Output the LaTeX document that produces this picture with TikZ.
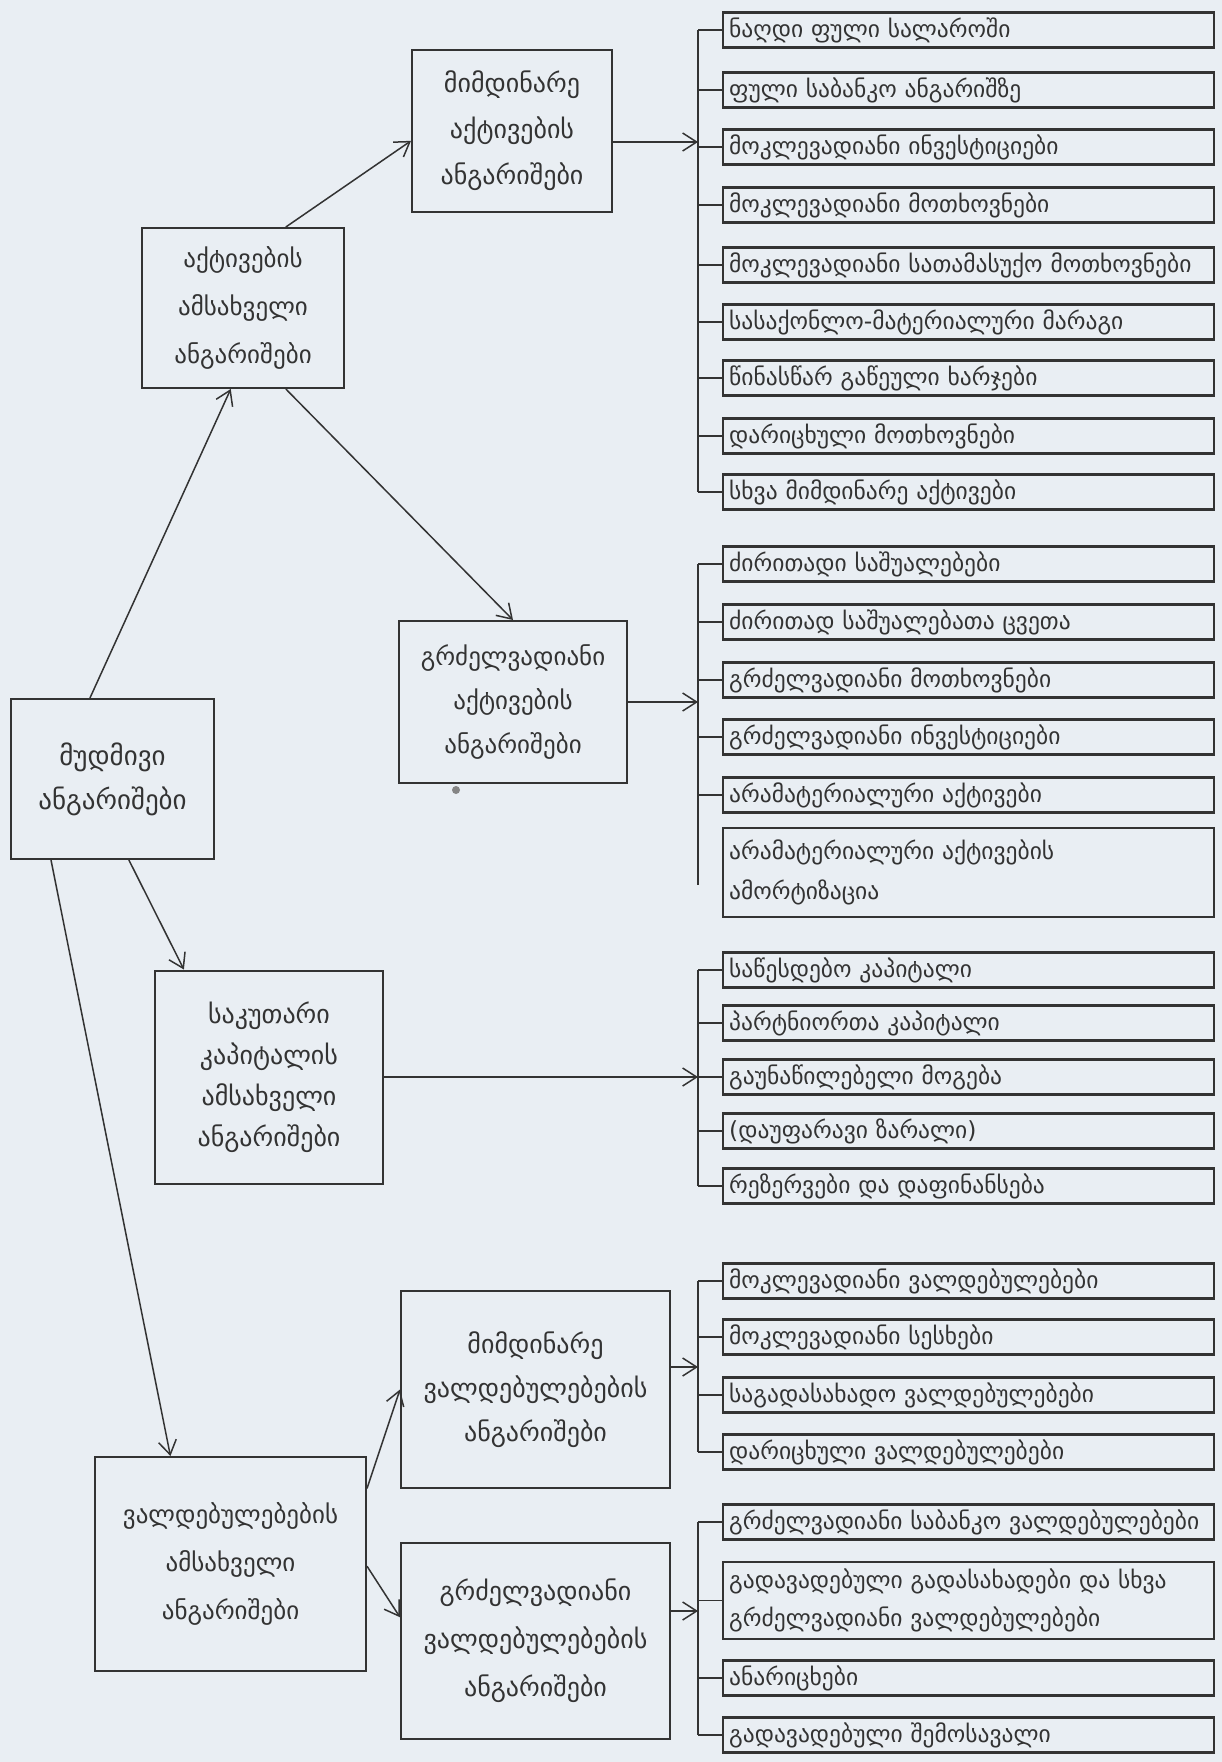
\documentclass[tikz,border=0pt]{standalone}
\usepackage{fontspec}
\setmainfont{DejaVu Sans}
\usetikzlibrary{arrows.meta,calc}
\definecolor{paper}{HTML}{E9EEF3}
\definecolor{ink}{HTML}{333333}
\tikzset{
 rbox/.style={draw=ink, line width=2.4pt, rectangle, anchor=west, inner xsep=6pt, inner ysep=0pt, text width=479pt, minimum height=35pt, align=left, font=\fontsize{23.5}{40}\selectfont, text=ink},
 mbox/.style={draw=ink, line width=2pt, rectangle, align=center, inner sep=0pt, font=\fontsize{26}{46}\selectfont, text=ink},
 conn/.style={draw=ink, line width=1.5pt},
 arr/.style={conn, -{Straight Barb[length=14pt,width=18pt,line width=1.5pt]}},
}
\begin{document}
\begin{tikzpicture}[x=1pt,y=-1pt]
\useasboundingbox (0,0) rectangle (1222,1762);
\fill[paper] (0,0) rectangle (1222,1762);
\coordinate (bx) at (698,0);
% left boxes
\node[mbox, minimum width=203pt, minimum height=160pt, font=\fontsize{27}{44}\selectfont] (L0) at (112.5,779) {მუდმივი\\ანგარიშები};
\node[mbox, minimum width=202pt, minimum height=160pt, font=\fontsize{25}{48}\selectfont] (L1) at (243,308) {აქტივების\\ამსახველი\\ანგარიშები};
\node[mbox, minimum width=228pt, minimum height=213pt, font=\fontsize{26}{41}\selectfont] (L2) at (269,1077) {საკუთარი\\კაპიტალის\\ამსახველი\\ანგარიშები};
\node[mbox, minimum width=271pt, minimum height=214pt, font=\fontsize{25}{48}\selectfont] (L3) at (230.5,1564) {ვალდებულებების\\ამსახველი\\ანგარიშები};
% middle boxes
\node[mbox, minimum width=200pt, minimum height=162pt] (M1) at (512,131) {მიმდინარე\\აქტივების\\ანგარიშები};
\node[mbox, minimum width=228pt, minimum height=162pt, font=\fontsize{25}{44}\selectfont] (M2) at (513,702) {გრძელვადიანი\\აქტივების\\ანგარიშები};
\node[mbox, minimum width=269pt, minimum height=197pt, font=\fontsize{26}{44}\selectfont] (M3) at (535.5,1389.5) {მიმდინარე\\ვალდებულებების\\ანგარიშები};
\node[mbox, minimum width=269pt, minimum height=196pt, font=\fontsize{26}{48}\selectfont] (M4) at (535.5,1641) {გრძელვადიანი\\ვალდებულებების\\ანგარიშები};
\fill[ink!60] (456,790) circle (4pt);
% right boxes
\node[rbox] (r1) at (722,30) {ნაღდი ფული სალაროში};
\node[rbox] (r2) at (722,90) {ფული საბანკო ანგარიშზე};
\node[rbox] (r3) at (722,147) {მოკლევადიანი ინვესტიციები};
\node[rbox] (r4) at (722,205) {მოკლევადიანი მოთხოვნები};
\node[rbox] (r5) at (722,265) {მოკლევადიანი სათამასუქო მოთხოვნები};
\node[rbox] (r6) at (722,322) {სასაქონლო-მატერიალური მარაგი};
\node[rbox] (r7) at (722,378) {წინასწარ გაწეული ხარჯები};
\node[rbox] (r8) at (722,436) {დარიცხული მოთხოვნები};
\node[rbox] (r9) at (722,492) {სხვა მიმდინარე აქტივები};
\node[rbox] (r10) at (722,564) {ძირითადი საშუალებები};
\node[rbox] (r11) at (722,622) {ძირითად საშუალებათა ცვეთა};
\node[rbox] (r12) at (722,680) {გრძელვადიანი მოთხოვნები};
\node[rbox] (r13) at (722,737) {გრძელვადიანი ინვესტიციები};
\node[rbox] (r14) at (722,795) {არამატერიალური აქტივები};
\node[rbox, minimum height=89pt] (r15) at (722,872.5) {არამატერიალური აქტივების\\ამორტიზაცია};
\node[rbox] (r16) at (722,970) {საწესდებო კაპიტალი};
\node[rbox] (r17) at (722,1023) {პარტნიორთა კაპიტალი};
\node[rbox] (r18) at (722,1077) {გაუნაწილებელი მოგება};
\node[rbox] (r19) at (722,1131) {(დაუფარავი ზარალი)};
\node[rbox] (r20) at (722,1186) {რეზერვები და დაფინანსება};
\node[rbox] (r21) at (722,1281) {მოკლევადიანი ვალდებულებები};
\node[rbox] (r22) at (722,1337) {მოკლევადიანი სესხები};
\node[rbox] (r23) at (722,1395) {საგადასახადო ვალდებულებები};
\node[rbox] (r24) at (722,1452) {დარიცხული ვალდებულებები};
\node[rbox] (r25) at (722,1522) {გრძელვადიანი საბანკო ვალდებულებები};
\node[rbox, minimum height=77pt, font=\fontsize{23.5}{38}\selectfont] (r26) at (722,1600.5) {გადავადებული გადასახადები და სხვა\\გრძელვადიანი ვალდებულებები};
\node[rbox] (r27) at (722,1678) {ანარიცხები};
\node[rbox] (r28) at (722,1735) {გადავადებული შემოსავალი};
% brackets
\foreach \i in {1,...,14,16,17,18,19,20,21,22,23,24,25,26,27,28}{
  \draw[conn] (r\i.west) -- (r\i.west -| bx);
}
\draw[conn] (r1.west -| bx) -- (r9.west -| bx);
\draw[conn] (r10.west -| bx) -- ($(r15.west -| bx)+(0,12)$);
\draw[conn] (r16.west -| bx) -- (r20.west -| bx);
\draw[conn] (r21.west -| bx) -- (r24.west -| bx);
\draw[conn] (r25.west -| bx) -- (r28.west -| bx);
% arrows to brackets
\coordinate (t1) at (698,142);
\coordinate (t2) at (698,702);
\coordinate (t3) at (698,1077);
\coordinate (t4) at (698,1367);
\coordinate (t5) at (698,1611);
\draw[arr] (M1.east |- t1) -- (t1);
\draw[arr] (M2.east |- t2) -- (t2);
\draw[arr] (L2.east |- t3) -- (t3);
\draw[arr] (M3.east |- t4) -- (t4);
\draw[arr] (M4.east |- t5) -- (t5);
% tree arrows
\draw[arr] ($(L0.north west)!0.39!(L0.north east)$) -- ($(L1.south west)!0.44!(L1.south east)$);
\draw[arr] ($(L1.north west)!0.71!(L1.north east)$) -- ($(M1.north west)!0.56!(M1.south west)$);
\draw[arr] ($(L1.south west)!0.71!(L1.south east)$) -- ($(M2.north west)!0.50!(M2.north east)$);
\draw[arr] ($(L0.south west)!0.58!(L0.south east)$) -- ($(L2.north west)!0.13!(L2.north east)$);
\draw[arr] ($(L0.south west)!0.20!(L0.south east)$) -- ($(L3.north west)!0.28!(L3.north east)$);
\draw[arr] ($(L3.north east)!0.15!(L3.south east)$) -- ($(M3.north west)!0.50!(M3.south west)$);
\draw[arr] ($(L3.north east)!0.51!(L3.south east)$) -- ($(M4.north west)!0.38!(M4.south west)$);
\end{tikzpicture}
\end{document}
